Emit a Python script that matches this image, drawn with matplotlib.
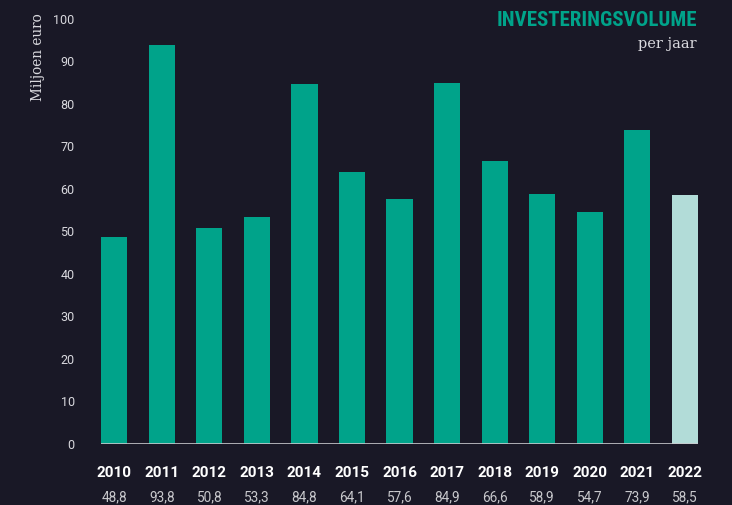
import matplotlib.pyplot as plt
from matplotlib.transforms import offset_copy
import numpy as np

years = ['2010', '2011', '2012', '2013', '2014', '2015', '2016',
         '2017', '2018', '2019', '2020', '2021', '2022']
volume = [48.8, 93.8, 50.8, 53.3, 84.8, 64.1, 57.6,
          84.9, 66.6, 58.9, 54.7, 73.9, 58.5]
value_labels = ['48,8', '93,8', '50,8', '53,3', '84,8', '64,1', '57,6',
                '84,9', '66,6', '58,9', '54,7', '73,9', '58,5']
y_ticks = [0, 10, 20, 30, 40, 50, 60, 70, 80, 90, 100]

bg = '#191826'
teal = '#00a38a'
light = '#b2dcd8'
txt = '#d9d9de'

fig = plt.figure(figsize=(7.32, 5.05), dpi=100, facecolor=bg)
ax = fig.add_axes([0.138, 0.1208, 0.8156, 0.8416], facecolor=bg)

x = np.arange(len(years))
colors = [teal] * (len(years) - 1) + [light]
ax.bar(x, volume, width=0.55, color=colors, zorder=2)
ax.axhline(0, color='#c8c8cc', lw=1.2, zorder=3)

ax.set_xlim(-0.28, len(years) - 1 + 0.28)
ax.set_ylim(0, 100)
ax.set_yticks(y_ticks)
ax.set_yticklabels([str(v) for v in y_ticks], family='Roboto', fontsize=9, color=txt)
ax.tick_params(axis='y', length=0, pad=19)
ax.set_xticks([])
for s in ax.spines.values():
    s.set_visible(False)

ax.set_ylabel('Miljoen euro', family='DejaVu Serif', fontsize=9.8, color=txt)
ax.yaxis.set_label_coords(-0.093, 0.91, transform=ax.transAxes)

trans = ax.get_xaxis_transform()
for i, (yr, lab) in enumerate(zip(years, value_labels)):
    ax.text(i, 0, yr, transform=offset_copy(trans, fig=fig, y=-29, units='dots'),
            ha='center', va='center', family='Roboto', fontweight='bold',
            fontsize=11, color='white')
    ax.text(i, 0, lab, transform=offset_copy(trans, fig=fig, y=-53, units='dots'),
            ha='center', va='center', family='Roboto', fontsize=9.8, color='#c8c8cc')

fig.text(697 / 732, 1 - 21 / 505, 'INVESTERINGSVOLUME', ha='right', va='center',
         family=['Roboto Condensed', 'Roboto'], fontweight='bold',
         fontsize=15, color=teal)
fig.text(697 / 732, 1 - 44 / 505, 'per jaar', ha='right', va='center',
         family='DejaVu Serif', fontsize=10.5, color=txt)

plt.savefig('out.png', dpi=100, facecolor=bg)
